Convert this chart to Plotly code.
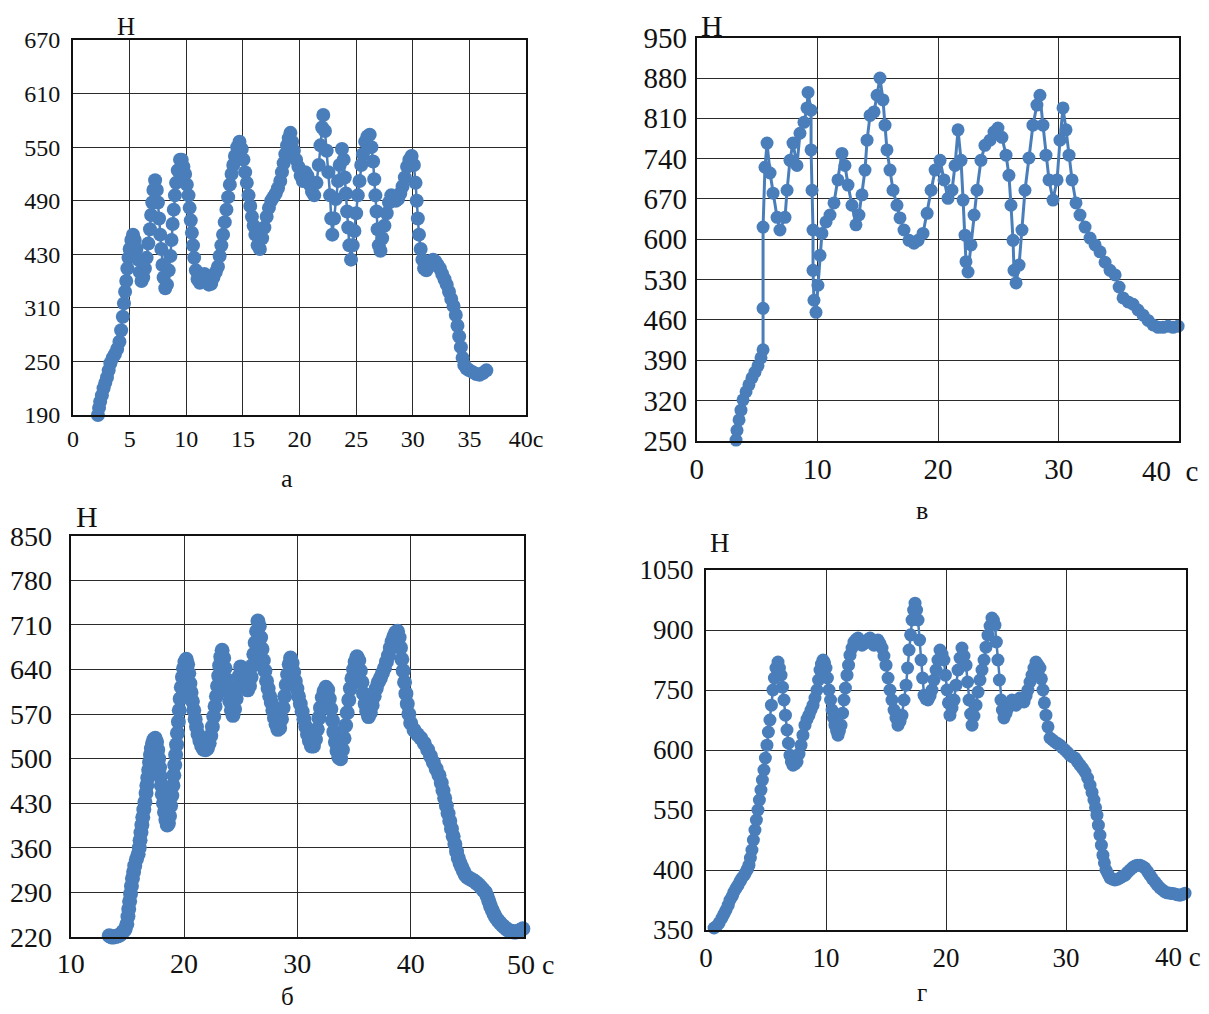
import plotly.graph_objects as go

W, H = 1209, 1014          # reference picture size
OFF = 8                    # page body margin of the html page
FW, FH = W - OFF, H - OFF  # figure size so that it ends at the window edge
BLUE = "#4a7ebb"
FONT = "Liberation Serif"

# ---------------- Panel а ----------------
a_x = [2.2, 2.3, 2.4, 2.55, 2.7, 2.85, 3.0, 3.15, 3.3, 3.5, 3.7, 3.9, 4.1, 4.25, 4.4, 4.5, 4.6, 4.7, 4.8, 4.9,
       5.0, 5.15, 5.3, 5.45, 5.6, 5.75, 5.9, 6.05, 6.2, 6.35, 6.5, 6.65, 6.8, 6.9, 7.0, 7.1, 7.25, 7.4, 7.5, 7.6,
       7.7, 7.8, 7.9, 8.0, 8.15, 8.3, 8.45, 8.6, 8.7, 8.8, 8.9, 9.0, 9.1, 9.25, 9.45, 9.6, 9.75, 9.9, 10.05, 10.2,
       10.3, 10.4, 10.5, 10.6, 10.7, 10.85, 11.0, 11.2, 11.4, 11.6, 11.8, 12.0, 12.2, 12.4, 12.6, 12.8, 12.95, 13.1, 13.25, 13.4,
       13.55, 13.7, 13.85, 14.0, 14.15, 14.3, 14.5, 14.7, 14.9, 15.05, 15.2, 15.35, 15.5, 15.65, 15.8, 15.95, 16.1, 16.3, 16.5, 16.7,
       16.9, 17.1, 17.3, 17.5, 17.7, 17.9, 18.1, 18.3, 18.45, 18.6, 18.75, 18.9, 19.05, 19.2, 19.35, 19.5, 19.7, 19.9, 20.1, 20.3,
       20.5, 20.7, 20.9, 21.1, 21.3, 21.5, 21.7, 21.85, 22.0, 22.1, 22.25, 22.4, 22.55, 22.7, 22.8, 22.9, 23.05, 23.2, 23.4, 23.55,
       23.75, 23.9, 24.0, 24.1, 24.2, 24.3, 24.4, 24.55, 24.7, 24.85, 25.0, 25.15, 25.3, 25.45, 25.6, 25.8, 26.0, 26.2, 26.35, 26.5,
       26.6, 26.7, 26.8, 26.9, 27.0, 27.15, 27.3, 27.5, 27.7, 27.9, 28.1, 28.3, 28.5, 28.7, 28.9, 29.1, 29.3, 29.5, 29.7, 29.9,
       30.1, 30.25, 30.35, 30.45, 30.55, 30.7, 30.85, 31.0, 31.2, 31.4, 31.6, 31.8, 32.0, 32.2, 32.4, 32.6, 32.8, 33.0, 33.2, 33.4,
       33.6, 33.8, 33.95, 34.1, 34.25, 34.4, 34.55, 34.75, 35.0, 35.3, 35.6, 35.9, 36.2, 36.5]
a_y = [250, 258, 265, 272, 280, 286, 292, 300, 308, 314, 318, 324, 332, 345, 360, 375, 388, 400, 414, 426,
       436, 446, 452, 446, 436, 424, 410, 400, 404, 414, 426, 442, 458, 474, 488, 502, 513, 502, 488, 470,
       452, 436, 418, 404, 392, 396, 412, 428, 446, 464, 480, 496, 510, 524, 536, 536, 528, 520, 508, 496,
       482, 468, 454, 440, 426, 412, 402, 398, 404, 408, 402, 396, 397, 404, 410, 416, 428, 440, 452, 466,
       480, 494, 508, 520, 530, 540, 550, 556, 548, 536, 522, 510, 496, 484, 472, 462, 452, 440, 436, 448,
       460, 472, 482, 490, 494, 498, 504, 512, 522, 532, 542, 552, 560, 566, 556, 546, 536, 528, 518, 512,
       522, 518, 508, 500, 496, 510, 530, 552, 572, 586, 568, 546, 522, 496, 470, 452, 470, 492, 512, 530,
       548, 536, 516, 498, 478, 460, 440, 424, 440, 456, 476, 496, 512, 530, 542, 556, 562, 564, 550, 534,
       514, 496, 478, 458, 440, 434, 448, 462, 476, 488, 496, 494, 490, 492, 498, 506, 516, 528, 536, 540,
       530, 510, 490, 470, 452, 436, 424, 414, 412, 416, 420, 424, 422, 418, 414, 408, 402, 396, 388, 380,
       372, 362, 350, 338, 326, 314, 306, 302, 300, 298, 296, 295, 297, 300]
a_ytickvals = [250, 310, 370, 430, 490, 550, 610, 670]
a_yticktext = ["190", "250", "310", "430", "490", "550", "610", "670"]
a_xtickvals = [0, 5, 10, 15, 20, 25, 30, 35, 40]
a_xticktext = ["0", "5", "10", "15", "20", "25", "30", "35", "40c"]

# ---------------- Panel в ----------------
v_x = [3.26, 3.34, 3.51, 3.67, 3.84, 4.09, 4.33, 4.58, 4.83, 5.08, 5.33, 5.5, 5.5, 5.5, 5.66, 5.83, 6.08, 6.33, 6.66, 6.9,
       7.32, 7.49, 7.73, 7.98, 8.31, 8.56, 8.89, 9.14, 9.23, 9.48, 9.48, 9.56, 9.64, 9.64, 9.72, 9.89, 10.05, 10.22, 10.38, 10.72,
       11.05, 11.38, 11.71, 12.04, 12.29, 12.54, 12.87, 13.2, 13.45, 13.7, 13.95, 14.12, 14.37, 14.7, 14.95, 15.19, 15.44, 15.61, 15.77, 16.02,
       16.27, 16.6, 16.85, 17.18, 17.6, 18.01, 18.35, 18.76, 19.1, 19.43, 19.76, 20.17, 20.5, 20.83, 21.16, 21.41, 21.66, 21.91, 22.08, 22.24,
       22.32, 22.49, 22.74, 22.99, 23.23, 23.56, 23.89, 24.31, 24.64, 24.97, 25.3, 25.64, 25.88, 26.05, 26.22, 26.3, 26.47, 26.72, 26.96, 27.21,
       27.54, 27.87, 28.2, 28.45, 28.7, 28.95, 29.2, 29.53, 29.87, 30.11, 30.36, 30.61, 30.86, 31.11, 31.44, 31.77, 32.19, 32.6, 33.02, 33.43,
       33.85, 34.26, 34.68, 35.01, 35.34, 35.76, 36.17, 36.58, 37.0, 37.41, 37.83, 38.24, 38.65, 39.07, 39.48, 39.9]
v_y = [251, 268, 286, 303, 321, 335, 347, 359, 369, 380, 394, 408, 480, 621, 725, 767, 715, 680, 638, 616,
       638, 685, 737, 767, 728, 784, 803, 828, 855, 824, 755, 685, 616, 546, 494, 473, 520, 572, 610, 630,
       642, 663, 703, 749, 728, 694, 659, 625, 642, 677, 720, 772, 815, 821, 850, 880, 842, 798, 755, 720,
       685, 659, 637, 616, 598, 593, 598, 610, 645, 685, 720, 737, 703, 671, 685, 728, 790, 737, 668, 607,
       561, 543, 590, 642, 685, 737, 763, 772, 786, 793, 777, 746, 711, 659, 598, 546, 524, 555, 616, 685,
       741, 798, 833, 850, 798, 746, 703, 668, 703, 772, 828, 790, 746, 703, 663, 642, 621, 602, 590, 578,
       560, 546, 538, 517, 498, 491, 487, 477, 468, 459, 451, 447, 447, 449, 447, 449]
v_ytickvals = [250, 320, 390, 460, 530, 600, 670, 740, 810, 880, 950]
v_xtickvals = [0, 10, 20, 30, 40]
v_xticktext = ["0", "10", "20", "30", ""]

# ---------------- Panel б ----------------
b_x = [13.4, 13.6, 13.8, 14.0, 14.2, 14.4, 14.6, 14.8, 14.95, 15.05, 15.12, 15.2, 15.28, 15.36, 15.45, 15.55, 15.65, 15.8, 15.95, 16.05,
       16.12, 16.2, 16.28, 16.36, 16.45, 16.55, 16.65, 16.72, 16.8, 16.88, 16.96, 17.04, 17.12, 17.22, 17.34, 17.46, 17.58, 17.68, 17.76, 17.84,
       17.92, 18.0, 18.08, 18.18, 18.28, 18.4, 18.52, 18.62, 18.72, 18.82, 18.92, 19.02, 19.1, 19.18, 19.26, 19.34, 19.42, 19.5, 19.58, 19.66,
       19.76, 19.86, 19.96, 20.08, 20.2, 20.32, 20.42, 20.52, 20.62, 20.74, 20.86, 20.98, 21.1, 21.24, 21.4, 21.56, 21.72, 21.9, 22.06, 22.22,
       22.36, 22.5, 22.62, 22.74, 22.86, 22.96, 23.06, 23.14, 23.24, 23.36, 23.5, 23.62, 23.76, 23.9, 24.04, 24.18, 24.32, 24.46, 24.6, 24.74,
       24.88, 25.0, 25.14, 25.3, 25.46, 25.62, 25.78, 25.92, 26.04, 26.16, 26.28, 26.4, 26.52, 26.64, 26.76, 26.88, 27.0, 27.14, 27.28, 27.42,
       27.56, 27.7, 27.84, 27.98, 28.12, 28.28, 28.44, 28.6, 28.74, 28.88, 29.02, 29.14, 29.28, 29.4, 29.54, 29.68, 29.82, 29.96, 30.1, 30.26,
       30.42, 30.58, 30.74, 30.9, 31.06, 31.24, 31.42, 31.6, 31.76, 31.9, 32.04, 32.2, 32.36, 32.52, 32.68, 32.82, 32.96, 33.1, 33.22, 33.36,
       33.5, 33.66, 33.82, 33.98, 34.12, 34.26, 34.4, 34.54, 34.68, 34.82, 34.96, 35.1, 35.26, 35.42, 35.56, 35.7, 35.84, 35.98, 36.12, 36.28,
       36.44, 36.6, 36.78, 36.96, 37.14, 37.32, 37.5, 37.68, 37.86, 38.04, 38.2, 38.36, 38.52, 38.68, 38.84, 38.98, 39.1, 39.22, 39.34, 39.46,
       39.58, 39.7, 39.84, 40.0, 40.3, 40.6, 40.9, 41.2, 41.5, 41.75, 42.0, 42.25, 42.5, 42.7, 42.85, 43.0, 43.15, 43.3, 43.45, 43.6,
       43.75, 43.9, 44.05, 44.2, 44.35, 44.5, 44.65, 44.8, 45.0, 45.2, 45.4, 45.6, 45.8, 46.0, 46.2, 46.4, 46.6, 46.75, 46.9, 47.05,
       47.2, 47.35, 47.5, 47.7, 47.9, 48.1, 48.3, 48.5, 48.7, 48.9, 49.1, 49.3, 49.5, 49.7, 49.9]
b_y = [222, 220, 220, 221, 222, 224, 228, 232, 240, 252, 264, 276, 288, 300, 312, 322, 332, 342, 350, 360,
       372, 384, 396, 408, 420, 432, 446, 458, 470, 482, 494, 506, 516, 524, 530, 532, 526, 514, 500, 486,
       472, 458, 444, 430, 416, 404, 396, 398, 410, 426, 442, 458, 474, 490, 506, 522, 540, 558, 576, 594,
       612, 628, 642, 652, 656, 648, 634, 618, 604, 590, 576, 562, 550, 538, 528, 520, 515, 514, 516, 524,
       536, 550, 566, 582, 598, 614, 630, 646, 660, 670, 658, 642, 624, 606, 590, 576, 568, 578, 594, 612,
       630, 644, 640, 630, 618, 608, 614, 628, 646, 664, 682, 700, 716, 708, 690, 672, 654, 638, 622, 610,
       598, 588, 576, 564, 554, 546, 548, 562, 580, 598, 616, 632, 648, 658, 650, 636, 622, 610, 598, 586,
       574, 562, 550, 538, 528, 520, 520, 530, 546, 564, 580, 596, 606, 612, 608, 594, 578, 560, 542, 526,
       512, 502, 500, 514, 532, 552, 572, 592, 610, 626, 640, 652, 660, 654, 638, 620, 602, 586, 574, 566,
       572, 584, 598, 610, 620, 626, 634, 642, 652, 662, 674, 684, 692, 698, 700, 690, 674, 656, 638, 620,
       602, 586, 570, 556, 545, 538, 532, 524, 514, 504, 494, 484, 474, 462, 450, 438, 426, 414, 402, 390,
       378, 366, 354, 344, 336, 330, 324, 318, 314, 312, 310, 308, 305, 302, 298, 294, 290, 284, 276, 268,
       262, 256, 251, 246, 242, 238, 235, 232, 230, 229, 228, 228, 229, 231, 233]
b_ytickvals = [220, 290, 360, 430, 500, 570, 640, 710, 780, 850]
b_xtickvals = [10, 20, 30, 40, 50]
b_xticktext = ["10", "20", "30", "40", ""]

# ---------------- Panel г ----------------
g_x = [0.67, 0.9, 1.1, 1.33, 1.5, 1.67, 1.85, 2.0, 2.2, 2.33, 2.5, 2.67, 2.85, 3.0, 3.2, 3.33, 3.45, 3.58, 3.7, 3.83,
       3.95, 4.08, 4.2, 4.33, 4.45, 4.58, 4.7, 4.83, 4.95, 5.08, 5.2, 5.33, 5.45, 5.58, 5.7, 5.83, 6.0, 6.12, 6.25, 6.37,
       6.5, 6.62, 6.75, 6.87, 7.0, 7.12, 7.25, 7.42, 7.58, 7.75, 7.92, 8.08, 8.25, 8.42, 8.58, 8.75, 8.92, 9.08, 9.25, 9.38,
       9.5, 9.62, 9.75, 9.88, 10.0, 10.12, 10.25, 10.38, 10.5, 10.62, 10.75, 10.88, 11.0, 11.12, 11.25, 11.38, 11.5, 11.62, 11.75, 11.88,
       12.0, 12.17, 12.33, 12.5, 12.67, 12.83, 13.0, 13.17, 13.33, 13.5, 13.67, 13.83, 14.0, 14.17, 14.33, 14.5, 14.67, 14.83, 15.0, 15.17,
       15.33, 15.5, 15.67, 15.83, 16.0, 16.17, 16.33, 16.5, 16.67, 16.8, 16.92, 17.05, 17.17, 17.3, 17.42, 17.55, 17.67, 17.8, 17.92, 18.05,
       18.17, 18.33, 18.5, 18.67, 18.83, 19.0, 19.17, 19.33, 19.5, 19.67, 19.83, 19.95, 20.08, 20.2, 20.33, 20.5, 20.67, 20.83, 21.0, 21.17,
       21.33, 21.5, 21.67, 21.8, 21.92, 22.05, 22.17, 22.33, 22.5, 22.67, 22.83, 23.0, 23.17, 23.33, 23.5, 23.67, 23.83, 23.95, 24.08, 24.2,
       24.33, 24.45, 24.58, 24.7, 24.83, 25.0, 25.17, 25.33, 25.5, 25.67, 25.83, 26.0, 26.17, 26.33, 26.5, 26.67, 26.83, 27.0, 27.17, 27.33,
       27.5, 27.67, 27.83, 27.95, 28.08, 28.2, 28.33, 28.5, 28.67, 28.88, 29.08, 29.3, 29.5, 29.7, 29.92, 30.12, 30.33, 30.55, 30.75, 30.95,
       31.17, 31.38, 31.58, 31.8, 32.0, 32.17, 32.33, 32.46, 32.58, 32.7, 32.83, 32.95, 33.08, 33.2, 33.33, 33.5, 33.67, 33.88, 34.08, 34.3,
       34.5, 34.7, 34.92, 35.12, 35.33, 35.55, 35.75, 35.95, 36.17, 36.38, 36.58, 36.8, 37.0, 37.2, 37.42, 37.62, 37.83, 38.05, 38.25, 38.45,
       38.67, 38.88, 39.08, 39.3, 39.5, 39.7, 39.92]
g_y = [155, 160, 168, 180, 190, 200, 212, 225, 235, 245, 254, 262, 272, 280, 288, 295, 302, 312, 330, 350,
       375, 400, 425, 450, 475, 500, 525, 550, 580, 612, 645, 675, 712, 750, 780, 805, 820, 805, 787, 757,
       725, 687, 650, 617, 587, 570, 562, 565, 570, 590, 612, 637, 662, 677, 687, 700, 712, 730, 750, 775,
       800, 815, 825, 818, 805, 780, 750, 725, 700, 680, 662, 648, 637, 648, 662, 692, 725, 755, 787, 812,
       837, 855, 870, 876, 880, 872, 862, 866, 870, 876, 880, 872, 862, 868, 875, 866, 855, 835, 812, 780,
       750, 725, 700, 680, 662, 672, 687, 725, 762, 805, 850, 888, 925, 950, 967, 950, 925, 875, 825, 780,
       737, 728, 725, 735, 750, 775, 800, 825, 850, 840, 825, 787, 750, 718, 687, 705, 725, 762, 800, 830,
       855, 835, 812, 770, 725, 690, 662, 685, 712, 745, 775, 800, 825, 857, 887, 910, 930, 925, 912, 870,
       825, 775, 725, 700, 680, 692, 705, 715, 725, 718, 712, 722, 730, 725, 720, 735, 750, 770, 787, 805,
       820, 812, 805, 778, 750, 718, 687, 658, 630, 625, 620, 616, 612, 606, 600, 594, 587, 583, 580, 571,
       562, 554, 545, 530, 512, 494, 475, 456, 437, 412, 387, 362, 337, 318, 300, 290, 280, 277, 275, 277,
       280, 284, 287, 294, 300, 306, 310, 312, 312, 309, 305, 296, 287, 278, 270, 262, 255, 250, 245, 243,
       242, 241, 240, 238, 237, 239, 242]
g_ytickvals = [150, 300, 450, 600, 750, 900, 1050]
g_yticktext = ["350", "400", "550", "600", "750", "900", "1050"]
g_xtickvals = [0, 10, 20, 30, 40]
g_xticktext = ["0", "10", "20", "30", ""]


def px_dom(x0, x1):
    return [(x0 - OFF) / FW, (x1 - OFF) / FW]


def py_dom(y_top, y_bot):
    return [1 - (y_bot - OFF) / FH, 1 - (y_top - OFF) / FH]


fig = go.Figure()

panels = [
    # suffix, x, y, marker size, line width
    ("", a_x, a_y, 14, 2.5),
    ("2", v_x, v_y, 13, 3),
    ("3", b_x, b_y, 15, 2.5),
    ("4", g_x, g_y, 13, 2.5),
]
for suf, xs, ys, ms, lw in panels:
    fig.add_trace(go.Scatter(
        x=xs, y=ys, mode="lines+markers",
        xaxis="x" + suf, yaxis="y" + suf,
        line=dict(color=BLUE, width=lw),
        marker=dict(color=BLUE, size=ms, line=dict(width=0)),
        cliponaxis=False, hoverinfo="skip",
    ))

grid = dict(showgrid=True, gridcolor="#2b2b2b", gridwidth=1.3, showline=True, mirror=True,
            linecolor="#111111", linewidth=2, zeroline=False, ticks="", tickmode="array",
            automargin=False)


def axis(domain, anchor, rng, tv, tt, size, standoff):
    d = dict(grid)
    d.update(domain=domain, anchor=anchor, range=rng, tickvals=tv, ticktext=tt,
             tickfont=dict(family=FONT, size=size, color="#111111"), ticklabelstandoff=standoff)
    return d


fig.update_layout(
    width=FW, height=FH, margin=dict(l=0, r=0, t=0, b=0, pad=0, autoexpand=False),
    paper_bgcolor="white", plot_bgcolor="white", showlegend=False,
    xaxis=axis(px_dom(73, 526), "y", [0, 40], a_xtickvals, a_xticktext, 24, 1),
    yaxis=axis(py_dom(40, 415), "x", [250, 670], a_ytickvals, a_yticktext, 24, 6),
    xaxis2=axis(px_dom(696.7, 1179.3), "y2", [0, 40], v_xtickvals, v_xticktext, 29, 1),
    yaxis2=axis(py_dom(37.7, 440.7), "x2", [250, 950], v_ytickvals, [str(v) for v in v_ytickvals], 29, 2),
    xaxis3=axis(px_dom(70.7, 524), "y3", [10, 50], b_xtickvals, b_xticktext, 28, 0),
    yaxis3=axis(py_dom(535.7, 937), "x3", [220, 850], b_ytickvals, [str(v) for v in b_ytickvals], 28, 11),
    xaxis4=axis(px_dom(706, 1186), "y4", [0, 40], g_xtickvals, g_xticktext, 27, 3),
    yaxis4=axis(py_dom(570, 930), "x4", [150, 1050], g_ytickvals, g_yticktext, 27, 5),
)


def ann(text, px, py, size):
    return dict(text=text, x=(px - OFF) / FW, y=1 - (py - OFF) / FH, xref="paper", yref="paper",
                xanchor="center", yanchor="middle", showarrow=False,
                font=dict(family=FONT, size=size, color="#111111"))


fig.update_layout(annotations=[
    ann("Н", 126, 26, 25),
    ann("Н", 712, 25, 30),
    ann("Н", 87, 516, 30),
    ann("Н", 720, 543, 27),
    ann("40\u00a0\u00a0c", 1170, 471, 29),
    ann("50\u00a0c", 530, 964, 28),
    ann("40\u00a0c", 1178, 957, 27),
    ann("а", 287, 478, 26),
    ann("в", 922, 510, 26),
    ann("б", 287, 996, 25),
    ann("г", 922, 992, 25),
])

fig.write_html("out.html")
